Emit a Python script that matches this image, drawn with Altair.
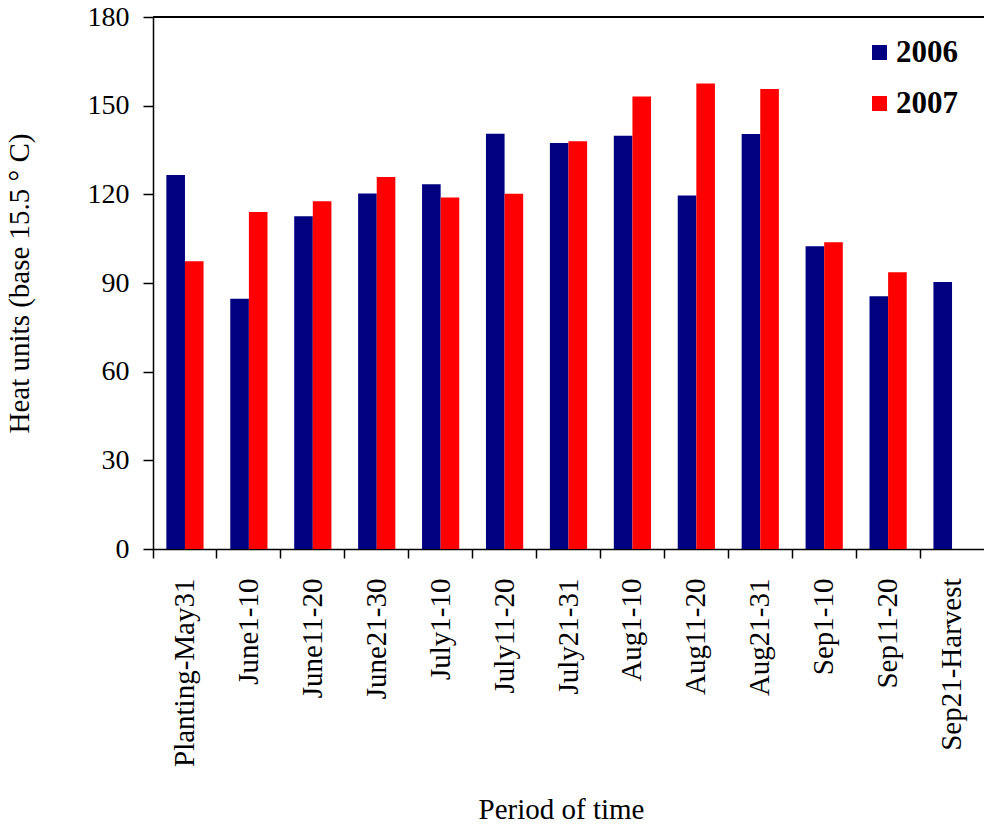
import altair as alt
import pandas as pd

# Ten-day periods of the growing season
periods = [
    "Planting-May31", "June1-10", "June11-20", "June21-30", "July1-10",
    "July11-20", "July21-31", "Aug1-10", "Aug11-20", "Aug21-31",
    "Sep1-10", "Sep11-20", "Sep21-Harvest",
]

# Accumulated heat units per period (base 15.5 °C)
heat_2006 = [126.5, 84.7, 112.6, 120.3, 123.4, 140.5, 137.4, 139.8, 119.6, 140.4, 102.4, 85.5, 90.3]
heat_2007 = [97.4, 114.0, 117.7, 125.9, 118.9, 120.2, 138.0, 153.1, 157.5, 155.6, 103.8, 93.6, None]

years = ["2006", "2007"]
year_colors = ["#000080", "#FF0000"]

rows = []
for year, series in zip(years, [heat_2006, heat_2007]):
    for period, value in zip(periods, series):
        if value is not None:
            rows.append({"period": period, "year": year, "heat": value})
df = pd.DataFrame(rows)

FONT = "Liberation Serif"

bars = alt.Chart(df).mark_bar().encode(
    x=alt.X(
        "period:N",
        sort=periods,
        scale=alt.Scale(paddingInner=0, paddingOuter=0),
        axis=alt.Axis(
            title="Period of time",
            titleFontSize=29,
            titleFontWeight="normal",
            titleX=408,
            titleY=269,
            titleBaseline="alphabetic",
            labelAngle=-90,
            labelFontSize=29,
            labelPadding=20,
            labelLimit=400,
            tickSize=9,
            bandPosition=0,
            tickExtra=False,
            grid=False,
        ),
    ),
    xOffset=alt.XOffset(
        "year:N",
        scale=alt.Scale(paddingInner=0, paddingOuter=0.718),
    ),
    y=alt.Y(
        "heat:Q",
        scale=alt.Scale(domain=[0, 180], nice=False),
        axis=alt.Axis(
            title="Heat units (base 15.5 ° C)",
            titleFontSize=29,
            titleFontWeight="normal",
            titleX=-119,
            titleY=266,
            values=[0, 30, 60, 90, 120, 150, 180],
            labelFontSize=28,
            labelPadding=14,
            tickSize=10,
            grid=False,
        ),
    ),
    color=alt.Color(
        "year:N",
        scale=alt.Scale(domain=years, range=year_colors),
        legend=alt.Legend(
            title=None,
            orient="none",
            legendX=711,
            legendY=20,
            padding=0,
            symbolType="square",
            symbolSize=225,
            symbolStrokeWidth=0,
            labelFontSize=31,
            labelFontWeight="bold",
            labelOffset=1,
            rowPadding=19,
        ),
    ),
)

# frame line along the top of the plot area
top_line = alt.Chart(df).mark_rule(color="black", strokeWidth=1.5).encode(
    y=alt.datum(180)
)

chart = (
    alt.layer(bars, top_line)
    .properties(
        width=831,
        height=532,
        autosize=alt.AutoSizeParams(type="none"),
        padding={"left": 153, "top": 17, "right": 0, "bottom": 277},
        background="white",
    )
    .configure_view(stroke=None)
    .configure_axis(
        labelFont=FONT,
        titleFont=FONT,
        labelColor="black",
        titleColor="black",
        domainColor="black",
        tickColor="black",
        domainWidth=1.5,
        tickWidth=1.5,
    )
    .configure_legend(labelFont=FONT, labelColor="black")
)

chart.save("out.html", embed_options={"renderer": "svg", "actions": False})
